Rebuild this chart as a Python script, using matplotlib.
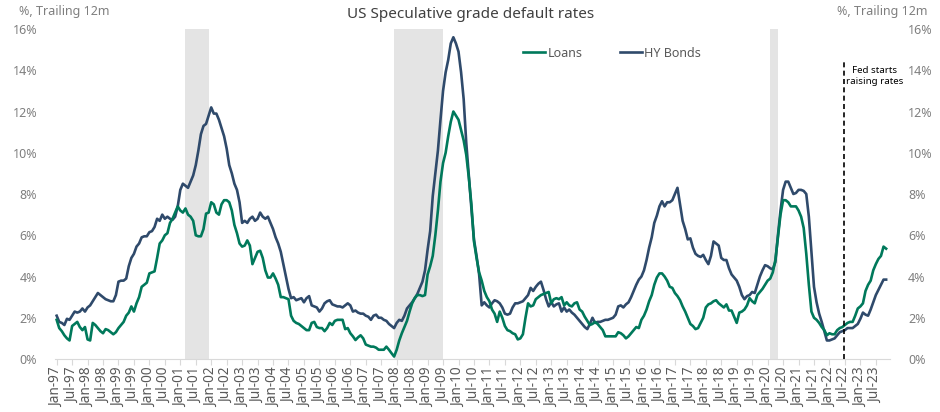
"""US speculative grade default rates (loans vs HY bonds), trailing 12m."""

import matplotlib

matplotlib.use("Agg")
import matplotlib.pyplot as plt  # noqa: E402
import pandas as pd  # noqa: E402

plt.rcParams["font.family"] = ["Noto Sans", "DejaVu Sans"]

months = pd.date_range("1997-01-01", "2023-11-01", freq="MS")

# % trailing 12m, one row per year (Jan..Dec)
loans = [
    1.9, 1.5, 1.35, 1.15, 1.0, 0.9, 1.6, 1.7, 1.8, 1.55, 1.4, 1.55,  # 1997
    0.95, 0.9, 1.75, 1.65, 1.5, 1.35, 1.25, 1.45, 1.4, 1.3, 1.2, 1.3,  # 1998
    1.5, 1.65, 1.8, 2.1, 2.25, 2.55, 2.3, 2.7, 3.0, 3.5, 3.6, 3.7,  # 1999
    4.15, 4.2, 4.25, 4.9, 5.6, 5.75, 6.0, 6.1, 6.6, 6.8, 7.1, 7.4,  # 2000
    7.2, 7.1, 7.3, 7.0, 6.9, 6.7, 6.0, 5.95, 5.95, 6.3, 7.05, 7.1,  # 2001
    7.6, 7.5, 7.1, 7.0, 7.5, 7.7, 7.7, 7.6, 7.2, 6.5, 6.1, 5.6,  # 2002
    5.45, 5.5, 5.75, 5.5, 4.6, 4.9, 5.2, 5.25, 4.9, 4.3, 3.95, 3.95,  # 2003
    4.15, 3.9, 3.6, 3.0, 3.0, 2.95, 2.9, 2.1, 1.85, 1.75, 1.7, 1.6,  # 2004
    1.5, 1.4, 1.4, 1.75, 1.8, 1.55, 1.5, 1.5, 1.35, 1.5, 1.75, 1.65,  # 2005
    1.85, 1.9, 1.9, 1.9, 1.45, 1.5, 1.25, 1.1, 0.92, 1.05, 1.15, 1.0,  # 2006
    0.7, 0.65, 0.6, 0.6, 0.55, 0.45, 0.45, 0.45, 0.6, 0.45, 0.28, 0.12,  # 2007
    0.45, 0.9, 1.25, 1.55, 1.85, 2.3, 2.7, 2.95, 3.1, 3.1, 3.05, 3.1,  # 2008
    4.1, 4.5, 5.0, 6.0, 7.2, 8.6, 9.5, 10.0, 10.8, 11.5, 12.0, 11.8,  # 2009
    11.6, 11.1, 10.6, 9.9, 8.8, 7.5, 5.7, 4.9, 4.2, 3.8, 3.3, 3.0,  # 2010
    2.8, 2.4, 2.2, 1.8, 2.3, 2.0, 1.6, 1.4, 1.35, 1.25, 1.2, 0.95,  # 2011
    1.0, 1.2, 2.0, 2.7, 2.55, 2.6, 2.9, 3.0, 3.1, 3.15, 3.2, 3.25,  # 2012
    2.7, 2.9, 2.95, 2.9, 3.0, 2.6, 2.75, 2.6, 2.55, 2.7, 2.75, 2.4,  # 2013
    2.3, 2.05, 1.85, 1.65, 1.7, 1.8, 1.7, 1.55, 1.4, 1.1, 1.1, 1.1,  # 2014
    1.1, 1.1, 1.3, 1.25, 1.15, 1.0, 1.1, 1.25, 1.4, 1.55, 1.5, 1.9,  # 2015
    2.1, 2.4, 2.8, 3.1, 3.6, 3.95, 4.15, 4.15, 4.0, 3.8, 3.5, 3.45,  # 2016
    3.2, 3.05, 2.85, 2.55, 2.3, 2.0, 1.7, 1.6, 1.45, 1.5, 1.75, 2.0,  # 2017
    2.5, 2.65, 2.7, 2.8, 2.85, 2.7, 2.6, 2.5, 2.65, 2.35, 2.35, 2.05,  # 2018
    1.75, 2.25, 2.3, 2.4, 2.6, 2.95, 2.8, 2.7, 3.1, 3.25, 3.4, 3.6,  # 2019
    3.8, 3.9, 4.2, 4.8, 5.9, 7.0, 7.7, 7.7, 7.6, 7.4, 7.4, 7.4,  # 2020
    7.2, 6.9, 6.35, 5.1, 3.6, 2.3, 2.0, 1.9, 1.75, 1.55, 1.4, 1.15,  # 2021
    1.25, 1.2, 1.2, 1.4, 1.5, 1.55, 1.65, 1.75, 1.8, 1.8, 2.1, 2.45,  # 2022
    2.55, 2.7, 3.3, 3.6, 3.8, 4.3, 4.6, 4.85, 5.0, 5.45, 5.35,  # 2023
]
hy_bonds = [
    2.1, 1.8, 1.75, 1.65, 1.95, 1.9, 2.1, 2.3, 2.25, 2.3, 2.45, 2.3,  # 1997
    2.5, 2.6, 2.8, 3.0, 3.2, 3.1, 3.0, 2.9, 2.85, 2.8, 2.8, 3.1,  # 1998
    3.75, 3.8, 3.8, 3.9, 4.5, 4.9, 5.1, 5.45, 5.6, 5.9, 5.95, 5.95,  # 1999
    6.15, 6.2, 6.4, 6.8, 6.7, 7.0, 6.8, 6.9, 6.8, 6.75, 6.9, 7.4,  # 2000
    8.2, 8.5, 8.4, 8.3, 8.6, 8.9, 9.4, 10.1, 10.9, 11.3, 11.4, 11.8,  # 2001
    12.2, 11.9, 11.9, 11.6, 11.2, 10.8, 10.2, 9.4, 9.0, 8.5, 8.2, 7.6,  # 2002
    6.6, 6.7, 6.6, 6.8, 6.9, 6.7, 6.8, 7.1, 6.9, 6.8, 6.9, 6.6,  # 2003
    6.3, 5.9, 5.6, 5.2, 4.6, 4.0, 3.4, 2.95, 3.0, 2.85, 2.9, 2.95,  # 2004
    2.75, 2.95, 3.05, 2.6, 2.55, 2.5, 2.3, 2.45, 2.7, 2.8, 2.85, 2.65,  # 2005
    2.6, 2.55, 2.55, 2.5, 2.6, 2.7, 2.6, 2.3, 2.35, 2.25, 2.2, 2.2,  # 2006
    2.1, 2.05, 1.9, 2.1, 2.15, 2.0, 2.0, 1.9, 1.85, 1.7, 1.6, 1.5,  # 2007
    1.75, 1.9, 1.85, 2.1, 2.45, 2.6, 2.75, 2.95, 3.15, 3.45, 3.75, 4.3,  # 2008
    5.3, 6.2, 7.9, 9.0, 10.1, 11.6, 13.0, 13.9, 14.5, 15.3, 15.6, 15.3,  # 2009
    14.9, 13.9, 12.6, 10.5, 8.9, 7.3, 5.8, 5.0, 4.1, 2.6, 2.75, 2.6,  # 2010
    2.5, 2.7, 2.85, 2.8, 2.7, 2.5, 2.2, 2.15, 2.2, 2.5, 2.7, 2.7,  # 2011
    2.75, 2.8, 2.95, 3.1, 3.45, 3.3, 3.5, 3.65, 3.75, 3.35, 2.9, 2.55,  # 2012
    2.75, 2.55, 2.65, 2.7, 2.3, 2.5, 2.3, 2.4, 2.25, 2.15, 2.0, 1.85,  # 2013
    1.7, 1.55, 1.45, 1.7, 2.0, 1.75, 1.8, 1.8, 1.85, 1.9, 1.9, 1.95,  # 2014
    2.0, 2.15, 2.55, 2.6, 2.5, 2.65, 2.75, 3.0, 3.3, 3.6, 3.85, 4.0,  # 2015
    4.3, 4.8, 5.4, 5.9, 6.6, 6.95, 7.4, 7.65, 7.4, 7.6, 7.6, 7.7,  # 2016
    8.0, 8.3, 7.5, 6.7, 6.3, 5.8, 5.85, 5.4, 5.1, 5.0, 4.95, 5.05,  # 2017
    4.8, 4.6, 5.0, 5.7, 5.6, 5.5, 4.9, 4.8, 4.8, 4.4, 4.1, 3.95,  # 2018
    3.8, 3.5, 3.1, 2.9, 3.05, 3.1, 3.25, 3.2, 3.6, 4.0, 4.3, 4.55,  # 2019
    4.5, 4.4, 4.35, 4.7, 6.0, 7.2, 8.2, 8.6, 8.6, 8.3, 8.0, 8.05,  # 2020
    8.2, 8.2, 8.15, 8.0, 6.9, 5.2, 3.5, 2.75, 2.2, 1.8, 1.35, 0.9,  # 2021
    0.9, 0.95, 1.0, 1.15, 1.3, 1.35, 1.4, 1.5, 1.5, 1.5, 1.6, 1.7,  # 2022
    1.95, 2.25, 2.15, 2.1, 2.4, 2.75, 3.1, 3.35, 3.6, 3.85, 3.85,  # 2023
]

recessions = [("2001-03", "2001-11"), ("2007-12", "2009-06"), ("2020-02", "2020-04")]
fed_month = "2022-06"
fed_text = "Fed starts\nraising rates"
y_ticks = [0, 2, 4, 6, 8, 10, 12, 14, 16]

GREEN = "#00795b"
NAVY = "#2f4a6b"
GREY_TXT = "#7f7f7f"
DARK_TXT = "#595959"


def idx(month: str) -> int:
    return months.get_loc(pd.Timestamp(month + "-01"))


x = list(range(len(months)))
tick_pos = list(range(0, len(months), 6))
tick_lab = [months[i].strftime("%b-%y") for i in tick_pos]

fig = plt.figure(figsize=(9.4, 4.12), dpi=100)
ax = fig.add_axes([0.0589, 0.1286, 0.8879, 0.801])

for start, end in recessions:
    ax.axvspan(idx(start), idx(end) + 1, color="#e4e4e4", lw=0, zorder=0)

ax.plot(x, loans, color=GREEN, lw=1.9, label="Loans", zorder=3)
ax.plot(x, hy_bonds, color=NAVY, lw=1.9, label="HY Bonds", zorder=2)

fx = idx(fed_month) + 0.5
ax.plot([fx, fx], [0, 14.4], color="black", lw=1.2, ls=(0, (3, 2)), zorder=4)
ax.text(fx + 12, 13.72, fed_text, ha="center", va="center", fontsize=7,
        color="black", linespacing=1.3)

ax.set_xlim(-0.5, 323.5)
ax.set_ylim(0, 16)
ax.set_yticks(y_ticks)
ax.set_yticklabels([f"{v}%" for v in y_ticks])
ax.tick_params(axis="y", length=0, pad=13, labelsize=9, labelcolor=GREY_TXT,
               labelright=True)
ax.set_xticks(tick_pos)
ax.set_xticklabels(tick_lab, rotation=90)
ax.tick_params(axis="x", length=4, width=0.8, color="#d9d9d9", pad=2,
               labelsize=9.8, labelcolor=DARK_TXT)
for side in ("top", "left", "right"):
    ax.spines[side].set_visible(False)
ax.spines["bottom"].set_color("#d9d9d9")

ax.legend(loc="center", bbox_to_anchor=(0.667, 0.927), ncol=2, frameon=False,
          fontsize=9, labelcolor=DARK_TXT, handlelength=1.75, handletextpad=0.2,
          columnspacing=3.0)

fig.text(0.501, 0.966, "US Speculative grade default rates", ha="center",
         va="center", fontsize=11, color="#404040")
fig.text(0.020, 0.971, "%, Trailing 12m", ha="left", va="center", fontsize=9,
         color=GREY_TXT)
fig.text(0.987, 0.971, "%, Trailing 12m", ha="right", va="center", fontsize=9,
         color=GREY_TXT)

fig.savefig("out.png", dpi=100)
